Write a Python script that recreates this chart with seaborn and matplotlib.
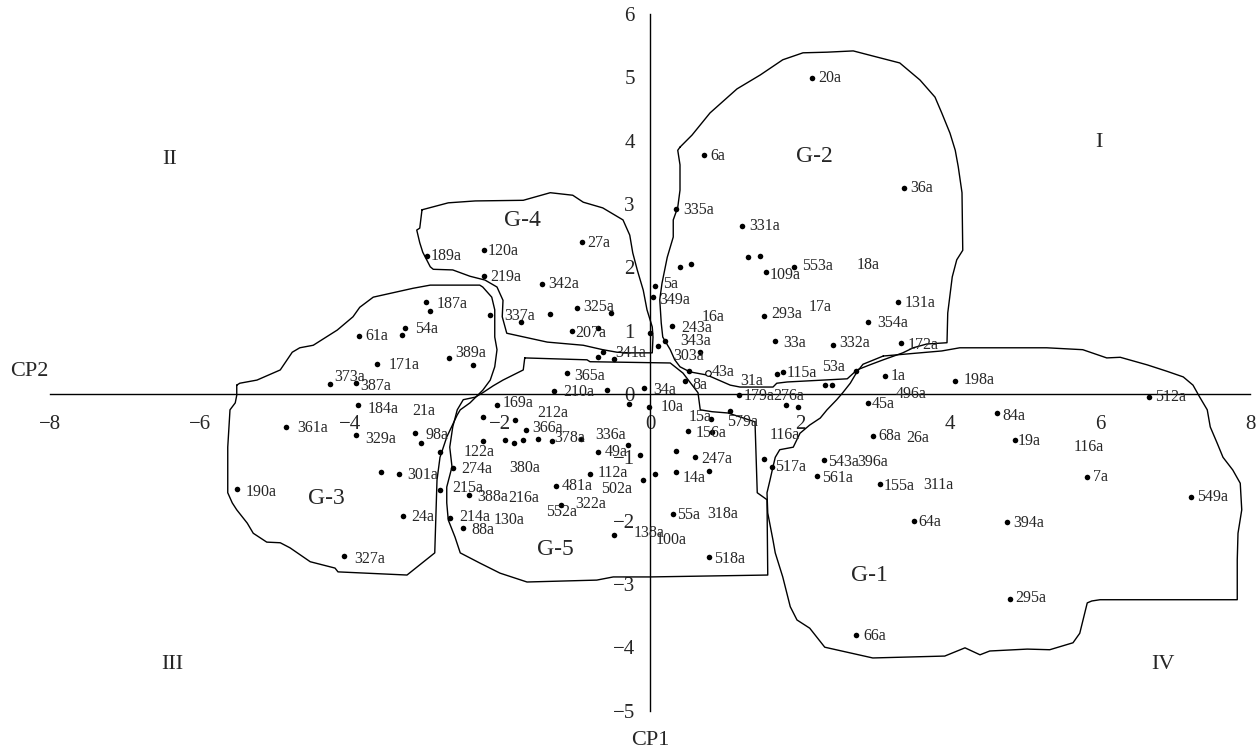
import numpy as np
import pandas as pd
import matplotlib
matplotlib.use('Agg')
import matplotlib.pyplot as plt
import seaborn as sns

# puntos (CP2, CP1)
pt_x = [-2.98, -2.21, -2.22, -0.91, -1.44, -0.97, -0.52, -2.13, -1.72, -1.34, -1.04, -0.69, -0.63, -0.69, -0.48,
        0.06, 0.04, 0.00,
        -2.99, -2.93, -3.27, -3.31, -3.88, -2.68, -2.36, -3.64, -4.27, -3.92, -3.89, -4.85, -3.92, -3.14, -3.05,
        -2.80, -3.59, -3.35, -5.51, -3.29, -4.08, -2.80, -2.63, -2.67, -2.50,
        -1.28, -0.57, -0.08, -1.11, -2.04, -0.28, -0.01, -2.23, -1.80, -1.65, -1.31, -0.92, -0.30, -0.13, -0.70,
        -2.23, -1.93, -1.82, -1.69, -1.50, -0.80, -2.42, -1.26, -0.10, -1.19, -0.48, 0.07, 0.35, 0.60, 0.35,
        0.78, 0.31, 0.78, 0.51, 0.82, 0.81, 1.06, 1.19, 0.47, 0.52,
        2.16, 0.72, 3.38, 0.34, 1.22, 1.30, 1.46, 0.40, 0.55, 1.55, 1.92, 3.30, 1.52, 0.29, 2.91, 0.20, 0.10,
        1.67, 2.44, 3.35, 0.66, 1.69, 1.77, 2.74,
        2.33, 2.42, 3.13, 4.07, 2.90, 1.81, 1.97, 4.62, 2.97, 2.32, 1.62, 1.52, 2.22, 3.07, 3.52, 6.65, 4.87,
        5.83, 7.21, 4.76, 4.80, 2.75]
pt_y = [2.18, 2.27, 1.86, 2.40, 1.74, 1.36, 1.28, 1.25, 1.14, 1.26, 0.99, 1.04, 0.67, 0.59, 0.55,
        1.71, 1.53, 0.97,
        1.45, 1.31, 1.05, 0.93, 0.91, 0.57, 0.46, 0.48, 0.16, 0.17, -0.18, -0.52, -0.64, -0.62, -0.77,
        -0.92, -1.23, -1.26, -1.50, -1.93, -2.56, -1.51, -1.17, -1.96, -2.12,
        0.04, 0.06, 0.10, 0.33, -0.17, -0.16, -0.21, -0.37, -0.41, -0.57, -0.74, -0.71, -0.80, -0.96, -0.91,
        -0.75, -0.73, -0.78, -0.73, -0.71, -1.26, -1.60, -1.45, -1.36, -1.75, -2.22, -1.27, -0.90, -1.00, -1.24,
        -1.22, -1.90, -2.58, -0.58, -0.60, -0.39, -0.27, -0.02, 0.20, 0.36,
        4.99, 3.78, 3.26, 2.93, 2.65, 2.16, 2.18, 2.00, 2.06, 1.92, 2.00, 1.45, 1.24, 1.07, 1.14, 0.84, 0.76,
        0.83, 0.77, 0.80, 0.66, 0.32, 0.35, 0.37,
        0.15, 0.15, 0.29, 0.21, -0.14, -0.18, -0.21, -0.30, -0.66, -1.04, -1.15, -1.02, -1.30, -1.42, -2.01,
        -0.05, -0.73, -1.31, -1.62, -2.02, -3.24, -3.81]
open_x = [0.77]
open_y = [0.33]

lab_text = ['189a', '120a', '219a', '27a', '342a', '325a', '337a', '207a', '5a', '349a', '341a', '365a',
            '210a', '34a', '187a', '54a', '61a', '389a', '171a', '373a', '387a', '184a', '21a', '361a',
            '329a', '98a', '301a', '190a', '24a', '327a', '169a', '212a', '366a', '378a', '336a', '49a',
            '122a', '274a', '380a', '112a', '215a', '388a', '216a', '481a', '502a', '552a', '322a', '214a',
            '130a', '88a', '138a', '100a', '10a', '15a', '579a', '156a', '247a', '14a', '55a', '318a',
            '518a', '179a', '276a', '116a', '517a', '8a', '43a', '31a', '303a', '343a', '243a', '16a',
            '20a', '6a', '36a', '335a', '331a', '109a', '553a', '18a', '131a', '17a', '293a', '354a',
            '33a', '332a', '172a', '115a', '53a', '1a', '198a', '496a', '45a', '68a', '26a', '543a',
            '396a', '561a', '155a', '311a', '64a', '512a', '84a', '19a', '116a', '7a', '549a', '394a',
            '295a', '66a']
lab_x = [-2.92, -2.16, -2.13, -0.84, -1.36, -0.89, -1.94, -0.99, 0.17, 0.12, -0.46, -1.01,
         -1.16, 0.04, -2.84, -3.13, -3.79, -2.59, -3.48, -4.21, -3.86, -3.77, -3.17, -4.71,
         -3.80, -3.00, -3.24, -5.39, -3.19, -3.94, -1.97, -1.50, -1.57, -1.28, -0.73, -0.60,
         -2.48, -2.51, -1.88, -0.70, -2.64, -2.31, -1.89, -1.17, -0.65, -1.39, -1.00, -2.54,
         -2.09, -2.38, -0.22, 0.07, 0.14, 0.51, 1.03, 0.61, 0.69, 0.44, 0.36, 0.76,
         0.85, 1.25, 1.65, 1.59, 1.67, 0.56, 0.83, 1.20, 0.31, 0.40, 0.41, 0.69,
         2.24, 0.80, 3.47, 0.45, 1.32, 1.60, 2.03, 2.75, 3.39, 2.12, 1.61, 3.03,
         1.78, 2.52, 3.44, 1.82, 2.30, 3.21, 4.18, 3.27, 2.96, 3.04, 3.42, 2.38,
         2.76, 2.30, 3.11, 3.64, 3.58, 6.73, 4.70, 4.90, 5.65, 5.90, 7.30, 4.84,
         4.87, 2.84]
lab_y = [2.18, 2.26, 1.85, 2.39, 1.73, 1.38, 1.24, 0.97, 1.73, 1.49, 0.64, 0.28,
         0.03, 0.07, 1.42, 1.02, 0.91, 0.64, 0.46, 0.27, 0.12, -0.24, -0.27, -0.53,
         -0.71, -0.65, -1.28, -1.55, -1.94, -2.61, -0.15, -0.30, -0.54, -0.70, -0.64, -0.91,
         -0.91, -1.18, -1.17, -1.25, -1.49, -1.62, -1.65, -1.46, -1.50, -1.86, -1.74, -1.95,
         -1.99, -2.15, -2.20, -2.31, -0.21, -0.37, -0.45, -0.62, -1.03, -1.33, -1.91, -1.90,
         -2.60, -0.03, -0.03, -0.65, -1.15, 0.14, 0.35, 0.21, 0.60, 0.84, 1.05, 1.21,
         4.99, 3.76, 3.25, 2.91, 2.65, 1.88, 2.02, 2.04, 1.43, 1.38, 1.26, 1.12,
         0.80, 0.80, 0.77, 0.33, 0.43, 0.29, 0.22, 0.00, -0.16, -0.66, -0.70, -1.07,
         -1.08, -1.32, -1.45, -1.44, -2.02, -0.05, -0.35, -0.75, -0.84, -1.31, -1.62, -2.04,
         -3.23, -3.83]

# contornos de los grupos
g1_x = [3.11, 3.89, 4.13, 5.29, 5.77, 6.09, 6.27, 6.63, 6.89, 7.11, 7.24, 7.33, 7.43, 7.47, 7.56, 7.64,
        7.77, 7.87, 7.89, 7.84, 7.83, 7.83, 6.00, 5.89, 5.83, 5.73, 5.64, 5.33, 5.03, 4.53, 4.40, 4.20,
        3.93, 2.97, 2.33, 2.13, 1.96, 1.87, 1.77, 1.67, 1.64, 1.57, 1.56, 1.60, 1.64, 1.67, 1.73, 1.91,
        2.00, 2.13, 2.27, 2.36, 2.49, 2.57, 2.67, 2.76, 2.84]
g1_y = [0.60, 0.68, 0.73, 0.73, 0.70, 0.57, 0.58, 0.46, 0.36, 0.27, 0.14, -0.05, -0.25, -0.52, -0.77, -1.00,
        -1.20, -1.41, -1.83, -2.20, -2.62, -3.25, -3.25, -3.27, -3.30, -3.78, -3.93, -4.04, -4.03, -4.06, -4.12, -4.01,
        -4.14, -4.17, -4.00, -3.70, -3.57, -3.36, -2.89, -2.51, -2.31, -1.88, -1.56, -1.36, -1.15, -1.00, -0.88, -0.84,
        -0.62, -0.49, -0.38, -0.25, -0.09, 0.02, 0.17, 0.35, 0.47]
g2_x = [0.40, 0.56, 0.80, 1.16, 1.47, 1.77, 2.04, 2.36, 2.71, 2.97, 3.33, 3.60, 3.80, 3.89, 4.00, 4.07,
        4.11, 4.16, 4.17, 4.09, 4.03, 3.97, 3.96, 3.69, 3.51, 3.37, 3.11, 2.93, 2.76, 2.63, 1.83, 1.69,
        1.64, 1.20, 1.07, 0.76, 0.53, 0.40, 0.33, 0.27, 0.17, 0.15, 0.13, 0.16, 0.23, 0.31, 0.31, 0.37,
        0.40, 0.40, 0.37]
g2_y = [3.90, 4.09, 4.44, 4.82, 5.04, 5.28, 5.39, 5.40, 5.42, 5.34, 5.23, 4.96, 4.69, 4.44, 4.12, 3.85,
        3.59, 3.18, 2.27, 2.12, 1.85, 1.28, 0.81, 0.79, 0.73, 0.65, 0.54, 0.46, 0.38, 0.24, 0.19, 0.17,
        0.11, 0.11, 0.14, 0.30, 0.35, 0.43, 0.54, 0.70, 0.90, 1.12, 1.49, 1.75, 2.16, 2.48, 2.75, 2.95,
        3.22, 3.62, 3.85]
g3_x = [-5.51, -5.47, -5.24, -4.93, -4.77, -4.67, -4.49, -4.17, -3.96, -3.87, -3.69, -3.16, -2.93, -2.27,
        -2.23, -2.11, -2.07, -2.07, -2.04, -2.07, -2.13, -2.23, -2.40, -2.53, -2.57, -2.71, -2.80, -2.84,
        -2.87, -3.24, -4.16, -4.20, -4.53, -4.80, -4.93, -5.11, -5.29, -5.37, -5.51, -5.57, -5.63, -5.63,
        -5.60, -5.53, -5.51]
g3_y = [0.14, 0.17, 0.22, 0.38, 0.66, 0.73, 0.77, 1.01, 1.22, 1.37, 1.53, 1.67, 1.72, 1.72,
        1.69, 1.53, 1.33, 0.90, 0.70, 0.43, 0.22, 0.06, -0.14, -0.25, -0.33, -0.68, -1.00, -1.36,
        -2.51, -2.86, -2.81, -2.75, -2.65, -2.43, -2.35, -2.34, -2.20, -2.04, -1.83, -1.72, -1.56, -0.84,
        -0.25, -0.14, -0.02]
g4_x = [-3.04, -2.69, -2.33, -1.69, -1.33, -1.03, -0.89, -0.63, -0.36, -0.27, -0.23, -0.17, -0.09, -0.04,
        0.03, 0.04, 0.03, -0.27, -0.44, -0.63, -0.89, -1.37, -1.91, -1.97, -1.96, -2.04, -2.20, -2.40,
        -2.63, -2.89, -2.93, -3.03, -3.07, -3.11, -3.07]
g4_y = [2.91, 3.02, 3.05, 3.06, 3.18, 3.14, 3.03, 2.94, 2.75, 2.51, 2.23, 1.96, 1.64, 1.33,
        1.06, 0.90, 0.65, 0.65, 0.66, 0.70, 0.77, 0.82, 0.96, 1.22, 1.48, 1.69, 1.80, 1.86,
        1.96, 1.97, 2.01, 2.24, 2.39, 2.59, 2.62]
g5_x = [-1.67, -0.84, -0.80, 0.27, 0.44, 0.64, 0.67, 0.83, 1.04, 1.40, 1.43, 1.56, 1.57, 0.00, -0.49,
        -0.71, -1.64, -2.00, -2.27, -2.53, -2.60, -2.69, -2.71, -2.71, -2.64, -2.67, -2.63, -2.57, -2.49,
        -2.33, -2.23, -2.09, -1.96, -1.69]
g5_y = [0.57, 0.54, 0.51, 0.49, 0.33, 0.02, -0.25, -0.28, -0.30, -0.44, -1.56, -1.67, -2.86, -2.89, -2.89,
        -2.94, -2.97, -2.83, -2.67, -2.51, -2.26, -1.99, -1.72, -1.47, -1.15, -0.84, -0.52, -0.25, -0.09,
        -0.05, 0.02, 0.13, 0.22, 0.38]

grupos = ['G-1', 'G-2', 'G-3', 'G-4', 'G-5']
grupo_x = [2.93, 2.19, -4.31, -1.70, -1.26]
grupo_y = [-2.87, 3.75, -1.65, 2.74, -2.46]
cuadrantes = ['I', 'II', 'III', 'IV']
cuad_x = [5.99, -6.40, -6.37, 6.84]
cuad_y = [3.98, 3.70, -4.28, -4.28]

sns.set_style('white')
plt.rcParams['font.family'] = ['Liberation Serif', 'DejaVu Serif']
plt.rcParams['axes.unicode_minus'] = True

fig = plt.figure(figsize=(12.6, 7.55), dpi=100)
ax = fig.add_axes([50 / 1260, 44.5 / 755, 1200 / 1260, 696.3 / 755])

puntos = pd.DataFrame({'CP2': pt_x, 'CP1': pt_y})
sns.scatterplot(data=puntos, x='CP2', y='CP1', color='black', s=16, linewidth=0, ax=ax, zorder=3)
ax.scatter(open_x, open_y, s=16, facecolor='white', edgecolor='black', linewidth=0.8, zorder=3)

for gx, gy in [(g1_x, g1_y), (g2_x, g2_y), (g3_x, g3_y), (g4_x, g4_y), (g5_x, g5_y)]:
    ax.plot(gx + gx[:1], gy + gy[:1], color='black', lw=1.0, zorder=2)

for t, x, y in zip(lab_text, lab_x, lab_y):
    ax.text(x, y, t, fontsize=11.5, ha='left', va='center', zorder=4)
for t, x, y in zip(grupos, grupo_x, grupo_y):
    ax.text(x, y, t, fontsize=17, ha='center', va='center')
for t, x, y in zip(cuadrantes, cuad_x, cuad_y):
    ax.text(x, y, t, fontsize=16, ha='center', va='center')

ax.set_xlim(-8, 8)
ax.set_ylim(-5, 6)
ax.spines['left'].set_position(('data', 0))
ax.spines['bottom'].set_position(('data', 0))
ax.spines['top'].set_visible(False)
ax.spines['right'].set_visible(False)
for s in ['left', 'bottom']:
    ax.spines[s].set_color('black')
    ax.spines[s].set_linewidth(1.0)
ax.set_xticks(np.arange(-8, 9, 2))
ax.set_yticks(np.arange(-5, 7, 1))
ax.tick_params(axis='both', direction='out', length=7, width=1.0, color='black', labelsize=15, pad=4)
ax.tick_params(axis='x', pad=8)
ax.set_xlabel('')
ax.set_ylabel('')
ax.text(-8.27, 0.35, 'CP2', fontsize=16, ha='center', va='center', clip_on=False)
ax.text(0, -5.47, 'CP1', fontsize=16, ha='center', va='center', clip_on=False)
ax.patch.set_alpha(0)

fig.savefig('out.png', dpi=100)
